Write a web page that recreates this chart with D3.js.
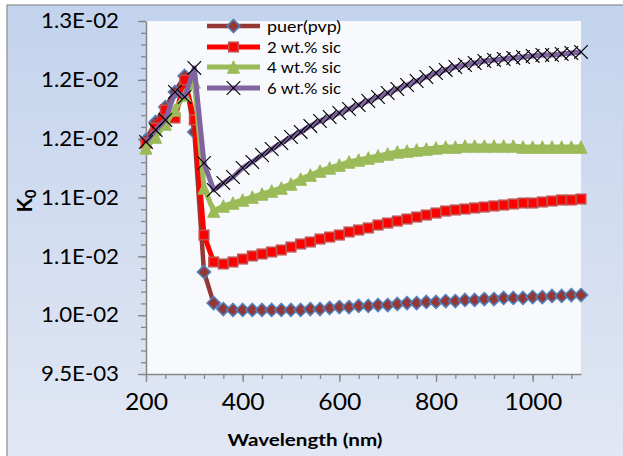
<!DOCTYPE html>
<html>
<head>
<meta charset="utf-8">
<script src="https://cdn.jsdelivr.net/npm/d3@7/dist/d3.min.js"></script>
<style>
  html, body { margin: 0; padding: 0; background: #ffffff; }
  svg { display: block; }
  text { font-family: Lato, "Open Sans", "Liberation Sans", sans-serif; fill: #000; }
</style>
</head>
<body>
<svg id="chart" width="623" height="456"></svg>
<script>
// Wavelength grid (nm)
const wavelengths = [200,220,240,260,280,300,320,340,360,380,400,420,440,460,480,500,520,540,560,580,600,
  620,640,660,680,700,720,740,760,780,800,820,840,860,880,900,920,940,960,980,1000,1020,1040,1060,1080,1100];

// K0 for the four samples
const puerPvp = [0.011489,0.011642,0.011769,0.011897,0.012033,0.011557,0.010367,0.010103,0.010052,0.010044,
  0.010044,0.010044,0.010044,0.010044,0.010044,0.010044,0.010044,0.010052,0.010052,0.010061,0.010069,
  0.010069,0.010078,0.010078,0.010086,0.010086,0.010095,0.010103,0.010103,0.010112,0.010112,0.010120,
  0.010120,0.010129,0.010129,0.010137,0.010137,0.010146,0.010146,0.010146,0.010154,0.010154,0.010163,
  0.010163,0.010171,0.010171];

const sic2 = [0.011463,0.011591,0.011744,0.011676,0.011999,0.011659,0.010681,0.010452,0.010435,0.010452,
  0.010477,0.010503,0.010520,0.010537,0.010554,0.010579,0.010605,0.010622,0.010647,0.010664,0.010681,
  0.010707,0.010724,0.010741,0.010766,0.010783,0.010800,0.010817,0.010834,0.010851,0.010868,0.010885,
  0.010894,0.010902,0.010911,0.010919,0.010928,0.010936,0.010945,0.010953,0.010953,0.010962,0.010970,
  0.010979,0.010979,0.010987];

const sic4 = [0.011421,0.011514,0.011625,0.011744,0.011871,0.011982,0.011081,0.010885,0.010928,0.010953,
  0.010979,0.011004,0.011030,0.011055,0.011081,0.011115,0.011157,0.011191,0.011225,0.011251,0.011276,
  0.011302,0.011319,0.011336,0.011353,0.011370,0.011387,0.011395,0.011404,0.011412,0.011421,0.011429,
  0.011429,0.011438,0.011438,0.011438,0.011438,0.011438,0.011438,0.011429,0.011429,0.011429,0.011429,
  0.011429,0.011429,0.011429];

const sic6 = [0.011472,0.011574,0.011659,0.011897,0.011854,0.012101,0.011293,0.011064,0.011123,0.011174,
  0.011251,0.011302,0.011361,0.011412,0.011463,0.011514,0.011557,0.011608,0.011650,0.011684,0.011718,
  0.011752,0.011786,0.011820,0.011854,0.011888,0.011922,0.011956,0.011990,0.012024,0.012058,0.012084,
  0.012109,0.012126,0.012143,0.012160,0.012169,0.012177,0.012186,0.012194,0.012203,0.012211,0.012211,
  0.012220,0.012228,0.012237];

const seriesNames = ["puer(pvp)", "2 wt.% sic", "4 wt.% sic", "6 wt.% sic"];

// Axis ticks
const xTicks = [200, 400, 600, 800, 1000];
const yTicks = [0.0095, 0.0100, 0.0105, 0.0110, 0.0115, 0.0120, 0.0125];
const yTickLabels = ["9.5E-03", "1.0E-02", "1.1E-02", "1.1E-02", "1.2E-02", "1.2E-02", "1.3E-02"];

const svg = d3.select("#chart");

// Widen text to the chart's broad lettering
function widen(sel, width) {
  sel.attr("textLength", width).attr("lengthAdjust", "spacingAndGlyphs");
}

// Chart area background with soft blue gradient
const defs = svg.append("defs");
const grad = defs.append("linearGradient").attr("id", "bg").attr("x1", 0).attr("y1", 0).attr("x2", 0).attr("y2", 1);
grad.append("stop").attr("offset", "0%").attr("stop-color", "#c3d3ed");
grad.append("stop").attr("offset", "100%").attr("stop-color", "#e3e8f4");

svg.append("rect").attr("x", 7).attr("y", 5).attr("width", 640).attr("height", 470)
  .attr("fill", "url(#bg)").attr("stroke", "#8c8c8c").attr("stroke-width", 1.2);

const x = d3.scaleLinear().domain([200, 1100]).range([146, 581]);
const y = d3.scaleLinear().domain([0.0095, 0.0125]).range([374, 21]);

// Plot area
svg.append("rect").attr("x", x(200)).attr("y", y(0.0125))
  .attr("width", x(1100) - x(200)).attr("height", y(0.0095) - y(0.0125))
  .attr("fill", "#f7f9fd");

// Minor ticks
const xMinor = d3.range(200, 1100, 40);
const yMinor = d3.range(0, 31).map(i => 0.0095 + i * 0.0001);

svg.append("g").attr("transform", `translate(0,${y(0.0095)})`)
  .call(d3.axisBottom(x).tickValues(xMinor).tickSize(5).tickFormat(""))
  .call(g => g.select(".domain").remove())
  .call(g => g.selectAll("line").attr("stroke", "#868686").attr("stroke-width", 1.3));
svg.append("g").attr("transform", `translate(${x(200)},0)`)
  .call(d3.axisLeft(y).tickValues(yMinor).tickSize(5).tickFormat(""))
  .call(g => g.select(".domain").remove())
  .call(g => g.selectAll("line").attr("stroke", "#868686").attr("stroke-width", 1.3));

// Major axes
const xAxis = svg.append("g").attr("transform", `translate(0,${y(0.0095)})`)
  .call(d3.axisBottom(x).tickValues(xTicks).tickSize(8).tickSizeOuter(0).tickPadding(12)
    .tickFormat(d3.format("d")));
const yAxis = svg.append("g").attr("transform", `translate(${x(200)},0)`)
  .call(d3.axisLeft(y).tickValues(yTicks).tickSize(8).tickSizeOuter(0).tickPadding(19)
    .tickFormat((d, i) => yTickLabels[i]));

[xAxis, yAxis].forEach(g => {
  g.select(".domain").attr("stroke", "#868686").attr("stroke-width", 1.5);
  g.selectAll(".tick line").attr("stroke", "#868686").attr("stroke-width", 1.3);
});
xAxis.selectAll(".tick text").attr("font-size", 23).attr("font-family", "Lato, sans-serif").attr("fill", "#000")
  .each(function (d) { widen(d3.select(this), d >= 1000 ? 58 : 43); });
yAxis.selectAll(".tick text").attr("font-size", 21).attr("font-family", "Lato, sans-serif").attr("fill", "#000")
  .each(function () { widen(d3.select(this), 78); });

// Axis titles
const xTitle = svg.append("text").attr("x", 305).attr("y", 446).attr("text-anchor", "middle")
  .attr("font-size", 17.5).attr("font-weight", "bold").text("Wavelength (nm)");
widen(xTitle, 155);

const yTitle = svg.append("text").attr("transform", "translate(32,201) rotate(-90)")
  .attr("text-anchor", "middle").attr("font-size", 21).attr("font-weight", "bold");
yTitle.append("tspan").text("K");
yTitle.append("tspan").attr("font-size", 15).attr("dy", 4).text("0");

// Series styling
const series = [
  { name: seriesNames[0], values: puerPvp, line: "#953735", width: 4.5, marker: "diamond" },
  { name: seriesNames[1], values: sic2, line: "#ff0000", width: 5, marker: "square" },
  { name: seriesNames[2], values: sic4, line: "#9bbb59", width: 5, marker: "triangle" },
  { name: seriesNames[3], values: sic6, line: "#8064a2", width: 5, marker: "cross" }
];

function drawMarker(g, type, cx, cy) {
  if (type === "diamond") {
    const r = 6.5;
    g.append("path").attr("d", `M${cx},${cy - r}L${cx + r},${cy}L${cx},${cy + r}L${cx - r},${cy}Z`)
      .attr("fill", "#953735").attr("stroke", "#4f81bd").attr("stroke-width", 1.6);
  } else if (type === "square") {
    const s = 9.5;
    g.append("rect").attr("x", cx - s / 2).attr("y", cy - s / 2).attr("width", s).attr("height", s)
      .attr("fill", "#ff0000").attr("stroke", "#c0504d").attr("stroke-width", 1.6);
  } else if (type === "triangle") {
    const h = 12.5, w = 12;
    g.append("path").attr("d", `M${cx},${cy - h / 2}L${cx + w / 2},${cy + h / 2}L${cx - w / 2},${cy + h / 2}Z`)
      .attr("fill", "#9bbb59").attr("stroke", "#9bbb59").attr("stroke-width", 1);
  } else {
    const r = 6.8;
    g.append("path").attr("d", `M${cx - r},${cy - r}L${cx + r},${cy + r}M${cx - r},${cy + r}L${cx + r},${cy - r}`)
      .attr("stroke", "#000").attr("stroke-width", 1.1).attr("fill", "none");
  }
}

const line = d3.line().x(d => x(d[0])).y(d => y(d[1]));

series.forEach(s => {
  const pts = wavelengths.map((w, i) => [w, s.values[i]]);
  const g = svg.append("g");
  g.append("path").datum(pts).attr("d", line).attr("fill", "none")
    .attr("stroke", s.line).attr("stroke-width", s.width).attr("stroke-linejoin", "round");
  pts.forEach(p => drawMarker(g, s.marker, x(p[0]), y(p[1])));
});

// Legend
const legendRows = [26, 47, 67, 88];
series.forEach((s, i) => {
  const g = svg.append("g");
  const ly = legendRows[i];
  g.append("line").attr("x1", 207).attr("x2", 260).attr("y1", ly).attr("y2", ly)
    .attr("stroke", s.line).attr("stroke-width", s.width);
  drawMarker(g, s.marker, 233.5, ly);
  const t = g.append("text").attr("x", 267).attr("y", ly).attr("dy", "0.35em")
    .attr("font-size", 16).text(s.name);
  widen(t, 74);
});
</script>
</body>
</html>
